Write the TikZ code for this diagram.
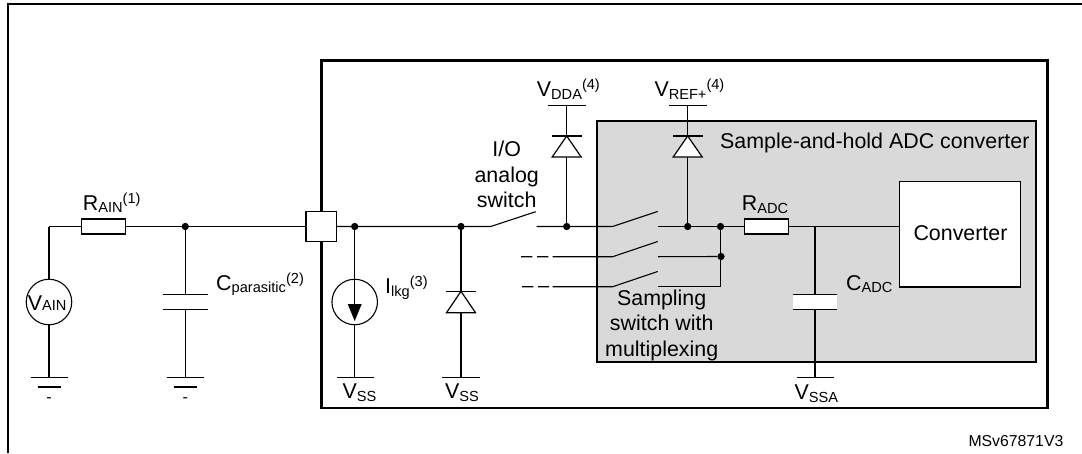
\documentclass[tikz,border=0pt]{standalone}
\usepackage{fontspec}
\setmainfont{Liberation Sans}
\newcommand{\mainsz}{\fontsize{21.4}{25}\selectfont}
\newcommand{\smallsz}{\fontsize{14.6}{17}\selectfont}
\newcommand{\lowr}[1]{\raisebox{-2.7pt}{\smallsz #1}}
\newcommand{\upr}[1]{\raisebox{7pt}{\smallsz #1}}
\tikzset{
  x=1pt,y=-1pt,
  wire/.style={line width=1.1pt,black},
  frame/.style={line width=2.2pt,black},
  part/.style={draw=black,line width=1.2pt,fill=white,inner sep=0pt,outer sep=0pt,minimum width=#1,minimum height=15pt,rectangle},
  part/.default=44pt,
  dot/.style={circle,fill=black,inner sep=0pt,minimum size=7.3pt},
  lbl/.style={anchor=base west,inner sep=0pt,font=\mainsz},
  ctr/.style={anchor=base,inner sep=0pt,font=\mainsz},
  src/.style={circle,draw=black,line width=1.1pt,fill=white,inner sep=0pt,outer sep=0pt,minimum size=45.5pt},
  plate/.style={line width=1.1pt,black},
  diodefill/.style={draw=black,line width=1.2pt,fill=white,line join=miter},
  dashwire/.style={line width=1.1pt,black},
}
\begin{document}
\begin{tikzpicture}
\useasboundingbox (0,0) rectangle (1082,453);
% outer frame
\coordinate (olb) at (8,453);
\coordinate (olt) at (8,4);
\coordinate (ort) at (1082,4);
\draw[frame] (olb) -- (olt) -- (ort);
% chip frame
\node[draw=black,line width=2.4pt,rectangle,inner sep=0pt,outer sep=0pt,minimum width=726pt,minimum height=347.4pt,anchor=north west] (chip) at (321.3,60.3) {};
% gray ADC block
\node[draw=black,line width=2pt,fill=black!15,rectangle,inner sep=0pt,outer sep=0pt,minimum width=438.7pt,minimum height=241.3pt,anchor=north west] (adc) at (597,120.7) {};
% named points
\coordinate (srcTop) at (49,226.5);
\node[part,minimum width=30.3pt,minimum height=30.3pt] (pin) at (321.2,226.5) {};
\node[part] (rain) at (103.5,226.5) {};
\node[dot] (j1) at (354.7,226.5) {};
\node[dot] (j2) at (461,226.5) {};
\coordinate (sw1a) at (490.7,226.5);
\coordinate (sw1b) at (535.7,211.7);
\coordinate (sw1c) at (536.7,226.5);
\node[dot] (j3) at (566.7,226.5) {};
\node[dot] (j4) at (687.7,226.5) {};
\node[dot] (j5) at (720.5,226.5) {};
\node[dot] (j6) at (721,256.5) {};
\node[dot] (jc) at (185.3,226.5) {};
\coordinate (j7) at (720.5,286.7);
\node[part] (radc) at (766.7,226.5) {};
\coordinate (jadc) at (815,226.5);
\node[part,minimum width=121pt,minimum height=105.7pt,anchor=north west,line width=1.1pt] (conv) at (899.3,181.3) {};
% main wires
\draw[wire] (srcTop) -- (rain.west);
\draw[wire] (rain.east) -- (pin.west);
\draw[wire] (pin.east) -- (sw1a) -- (sw1b);
\draw[wire] (sw1c) -- (612.7,226.5) -- (657.7,211.5);
\draw[wire] (658,226.5) -- (radc.west);
\draw[wire] (radc.east) -- (conv.west |- radc.east);
% lower switches
\coordinate (d2a) at (521,256.7); \coordinate (d2b) at (532.3,256.7);
\coordinate (d2c) at (537,256.7); \coordinate (d2d) at (548.3,256.7);
\coordinate (d2e) at (552.7,256.7); \coordinate (d2f) at (612.7,256.7);
\draw[dashwire] (d2a) -- (d2b) (d2c) -- (d2d) (d2e) -- (d2f) -- (657.7,241.5);
\draw[wire] (658,256.7) -- (j6);
\coordinate (d3a) at (522,286.7); \coordinate (d3b) at (533.3,286.7);
\coordinate (d3c) at (538,286.7); \coordinate (d3d) at (549,286.7);
\coordinate (d3e) at (552.7,286.7); \coordinate (d3f) at (612.7,286.7);
\draw[dashwire] (d3a) -- (d3b) (d3c) -- (d3d) (d3e) -- (d3f) -- (657.7,271.5);
\draw[wire] (658,286.7) -- (j7) -- (j5);
% V_AIN source + ground
\node[src] (vain) at (49,302) {};
\draw[wire] (srcTop) -- (vain.north);
\coordinate (g1) at (49,377.5);
\draw[wire] (vain.south) -- (g1);
\draw[plate] (30.7,377.5) -- (67.7,377.5);
\draw[plate] (38,387) -- (60.7,387);
\node[ctr,font=\fontsize{16}{18}\selectfont] (m1) at (49,402) {-};
% C parasitic + ground
\coordinate (cp1) at (185.3,294.3); \coordinate (cp2) at (185.3,309.7); \coordinate (g2) at (185.3,377.5);
\draw[wire] (jc) -- (cp1) (cp2) -- (g2);
\draw[plate] (163,294.3) -- (207.7,294.3);
\draw[plate] (163,309.7) -- (207.7,309.7);
\draw[plate] (166.7,377.5) -- (204,377.5);
\draw[plate] (174,387) -- (196.7,387);
\node[ctr,font=\fontsize{16}{18}\selectfont] (m2) at (185.3,402) {-};
% current source
\node[src] (ilkg) at (354.7,302) {};
\coordinate (g3) at (354.7,377.3);
\draw[wire] (j1) -- (ilkg.north);
\draw[wire] (ilkg.south) -- (g3);
\draw[wire] (ilkg.north) -- (354.7,304);
\fill[black] (347.7,304) -- (361.7,304) -- (354.7,321) -- cycle;
\draw[plate] (337,377.3) -- (374.3,377.3);
% lower diode
\coordinate (g4) at (461,377.3);
\draw[wire] (j2) -- (g4);
\draw[diodefill] (461,291.3) -- (446.5,312.7) -- (475.5,312.7) -- cycle;
\draw[plate] (446,291.3) -- (475.7,291.3);
\draw[plate] (442.3,377.3) -- (480,377.3);
% VDDA diode
\coordinate (vdda) at (566.7,105.3);
\draw[wire] (vdda) -- (j3);
\draw[diodefill] (566.7,136) -- (552.2,157) -- (581.2,157) -- cycle;
\draw[plate] (552.3,136) -- (581.7,136);
\draw[plate] (548.3,105.3) -- (585.7,105.3);
% VREF diode
\coordinate (vref) at (687.7,105.3);
\draw[wire] (vref) -- (j4);
\draw[diodefill] (687.7,136) -- (673.2,157) -- (702.2,157) -- cycle;
\draw[plate] (673.3,136) -- (702.7,136);
\draw[plate] (669.3,105.3) -- (706.7,105.3);
% C ADC
\fill[white] (793.3,294.3) rectangle (837.3,309.7);
\coordinate (cadc1) at (815,294.3); \coordinate (cadc2) at (815,309.7); \coordinate (g5) at (815,377.7);
\draw[wire] (jadc) -- (cadc1) (cadc2) -- (g5);
\draw[plate] (793.3,294.3) -- (837.3,294.3);
\draw[plate] (793.3,309.7) -- (837.3,309.7);
\draw[plate] (796.7,377.7) -- (834,377.7);
% labels
\node[lbl] (train) at (82.7,210) {R\lowr{AIN}\upr{(1)}};
\node[lbl] (tvain) at (27.7,310.7) {V\smallsz AIN};
\node[lbl] (tcp) at (216,290) {C\lowr{parasitic}\upr{(2)}};
\node[lbl] (tvdda) at (536.7,96.7) {V\lowr{DDA}\upr{(4)}};
\node[lbl] (tvref) at (654.3,96.7) {V\lowr{REF+}\upr{(4)}};
\node[ctr] (tio1) at (506.7,156.7) {I/O};
\node[ctr] (tio2) at (506.7,182.5) {analog};
\node[ctr] (tio3) at (506.7,207.7) {switch};
\node[lbl] (tilkg) at (385,293.3) {I\lowr{lkg}\upr{(3)}};
\node[lbl] (tvss1) at (342.3,398.5) {V\lowr{SS}};
\node[lbl] (tvss2) at (445,398.5) {V\lowr{SS}};
\node[lbl] (tsah) at (720,148) {Sample-and-hold ADC converter};
\node[lbl] (tradc) at (741.7,210.7) {R\lowr{ADC}};
\node[lbl] (tconv) at (913.3,240.7) {Converter};
\node[lbl] (tcadc) at (846,290) {C\lowr{ADC}};
\node[ctr] (ts1) at (661.7,305.3) {Sampling};
\node[ctr] (ts2) at (661.7,330.5) {switch with};
\node[ctr] (ts3) at (661.7,356) {multiplexing};
\node[lbl] (tvssa) at (794.3,399.3) {V\lowr{SSA}};
\node[lbl,font=\fontsize{15.8}{18}\selectfont] (tms) at (968.3,446) {MSv67871V3};
\end{tikzpicture}
\end{document}
